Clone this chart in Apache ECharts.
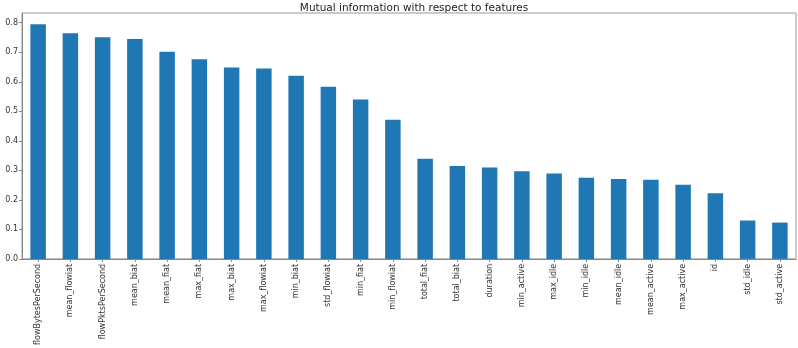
<!DOCTYPE html>
<html>
<head>
<meta charset="utf-8">
<script src="https://cdn.jsdelivr.net/npm/echarts@6/dist/echarts.min.js"></script>
<style>html,body{margin:0;padding:0;background:#fff}#c{width:798px;height:348px}</style>
</head>
<body>
<div id="c"></div>
<script>
const categories = ["flowBytesPerSecond","mean_flowiat","flowPktsPerSecond","mean_biat","mean_fiat","max_fiat","max_biat","max_flowiat","min_biat","std_flowiat","min_fiat","min_flowiat","total_fiat","total_biat","duration","min_active","max_idle","min_idle","mean_idle","mean_active","max_active","id","std_idle","std_active"];
const values = [0.795,0.764,0.751,0.745,0.702,0.676,0.648,0.645,0.620,0.583,0.540,0.471,0.339,0.315,0.310,0.297,0.289,0.275,0.271,0.268,0.251,0.222,0.130,0.123];
const titleText = "Mutual information with respect to features";

const chart = echarts.init(document.getElementById('c'), null, {renderer:'canvas'});
chart.setOption({
  animation: false,
  title: {text: titleText, left: 409, top: -2, textAlign: 'center',
    textStyle: {fontFamily: 'DejaVu Sans', fontSize: 10.5, fontWeight: 'normal', color: '#222'}},
  grid: {left: 22, right: 2, top: 13, bottom: 79, show: true, borderColor: '#999', borderWidth: 1, containLabel: false},
  xAxis: {
    type: 'category', data: categories,
    axisLine: {lineStyle: {color: '#888'}},
    axisTick: {show: true, alignWithLabel: true, length: 3, lineStyle: {color: '#888'}},
    axisLabel: {rotate: 90, interval: 0, fontFamily: 'DejaVu Sans', fontSize: 8, color: '#333', margin: 5}
  },
  yAxis: {
    type: 'value', min: 0, max: 0.833, interval: 0.1,
    axisLine: {show: true, lineStyle: {color: '#888'}},
    axisTick: {show: true, length: 3, lineStyle: {color: '#888'}},
    splitLine: {show: false},
    axisLabel: {showMaxLabel: false, fontFamily: 'DejaVu Sans', fontSize: 8, color: '#333', margin: 4,
      formatter: v => v.toFixed(1)}
  },
  series: [{type: 'bar', data: values, barWidth: '48%', itemStyle: {color: '#1f77b4'}}]
});
</script>
</body>
</html>
